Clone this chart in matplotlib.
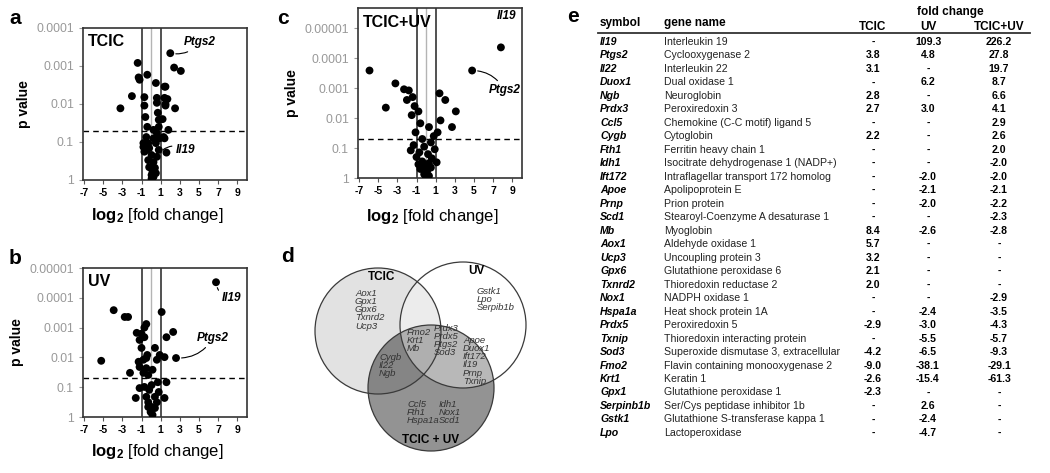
import numpy as np
import matplotlib.pyplot as plt
from matplotlib.patches import Circle
from matplotlib.ticker import NullLocator

plt.rcParams['font.family'] = ['Liberation Sans', 'DejaVu Sans']
plt.rcParams['mathtext.fontset'] = 'custom'
plt.rcParams['mathtext.rm'] = 'Liberation Sans'
plt.rcParams['mathtext.bf'] = 'Liberation Sans:bold'
plt.rcParams['mathtext.it'] = 'Liberation Sans:italic'

# ---- volcano data: log2 fold change and p value ----
tcic_x = [2.0, 2.4, 3.1, 1.5, 1.7, 1.5, 2.5, 1.8, 1.4, 1.6,
          -1.4, -1.3, -1.2, -0.4, 0.5, 1.4, -2.0, -3.2, -0.7, 0.6,
          -0.7, 0.6, 1.5, 0.7, -0.6, 1.2, -0.4, 0.8, 0.6, 1.3,
          -0.5, 0.25, -0.8, 0.5, -0.2, -0.5, 0.8, 0.05, 0.6, -0.3,
          0.25, -0.2, 0.4, 0.15, 0.05, 0.25, 0.05, 0.5, -0.7, -0.8,
          -0.3, 0.9, 0.8, 0.25, 1.4]
tcic_p = [4.6e-4, 1.1e-3, 1.35e-3, 3.5e-3, 7.4e-3, 0.011, 0.013, 0.048, 0.08, 0.19,
          8.3e-4, 2.0e-3, 2.3e-3, 1.7e-3, 2.8e-3, 3.5e-3, 6.2e-3, 0.013, 6.6e-3, 6.9e-3,
          0.011, 9.3e-3, 0.010, 0.017, 0.022, 0.025, 0.040, 0.040, 0.058, 0.074,
          0.074, 0.080, 0.107, 0.107, 0.145, 0.162, 0.162, 0.22, 0.245, 0.30,
          0.34, 0.46, 0.48, 0.62, 0.74, 0.83, 0.93, 0.66, 0.18, 0.135,
          0.107, 0.080, 0.026, 0.048, 6.9e-3]

uv_x = [-3.9, -2.75, -2.4, 1.1, -0.5, -0.7, -1.5, -1.0, -1.2, -0.7,
        2.3, 1.6, 0.4, -1.0, -5.2, 0.9, 1.4, 2.6, -1.3, -0.5,
        0.6, -1.2, -0.5, 0.15, -2.2, -0.8, -0.3, 0.7, 1.6, -1.2,
        -0.2, 0.8, -1.6, 1.4, -0.5, 0.4, -0.3, 0.6, 0.05, -0.3,
        0.4, -0.05, 0.15, -0.7, 0.05, -0.8, -0.4, 6.77]
uv_p = [2.6e-4, 4.4e-4, 4.4e-4, 3.0e-4, 7.6e-4, 1.0e-3, 1.5e-3, 1.6e-3, 2.6e-3, 2.1e-3,
        1.4e-3, 2.1e-3, 4.8e-3, 4.8e-3, 0.013, 8.3e-3, 9.8e-3, 0.0105, 0.014, 0.0105,
        0.012, 0.021, 0.023, 0.026, 0.033, 0.033, 0.039, 0.068, 0.068, 0.107,
        0.123, 0.145, 0.23, 0.23, 0.21, 0.21, 0.32, 0.32, 0.46, 0.46,
        0.50, 0.68, 0.85, 0.098, 0.085, 0.012, 8.3e-3, 3.0e-5]

both_x = [7.8, 4.8, -5.9, -3.2, -2.3, -1.8, -1.4, -2.0, -1.2, -0.8,
          -1.5, -4.2, 1.4, 2.0, 3.1, 1.5, 2.7, 1.2, -0.6, 0.3,
          -1.1, 0.8, -0.4, 0.5, -1.3, -0.2, 0.9, -0.7, 0.2, -1.0,
          0.6, -0.4, 0.3, -0.1, 0.5, -0.6, 0.1, -0.2, 0.3, 0.0,
          -0.8, 1.1, -1.6]
both_p = [4.4e-5, 2.6e-4, 2.6e-4, 7e-4, 1.1e-3, 1.2e-3, 2.0e-3, 2.5e-3, 4e-3, 6e-3,
          8e-3, 4.5e-3, 1.5e-3, 2.5e-3, 6e-3, 0.012, 0.02, 0.03, 0.015, 0.02,
          0.03, 0.04, 0.05, 0.065, 0.08, 0.09, 0.11, 0.14, 0.16, 0.2,
          0.22, 0.28, 0.32, 0.4, 0.45, 0.5, 0.6, 0.75, 0.85, 0.95,
          0.35, 0.3, 0.12]

x_ticks = [-7, -5, -3, -1, 1, 3, 5, 7, 9]

# ---- table data ----
symbols = ['Il19', 'Ptgs2', 'Il22', 'Duox1', 'Ngb', 'Prdx3', 'Ccl5', 'Cygb', 'Fth1', 'Idh1',
           'Ift172', 'Apoe', 'Prnp', 'Scd1', 'Mb', 'Aox1', 'Ucp3', 'Gpx6', 'Txnrd2', 'Nox1',
           'Hspa1a', 'Prdx5', 'Txnip', 'Sod3', 'Fmo2', 'Krt1', 'Gpx1', 'Serpinb1b', 'Gstk1', 'Lpo']
gene_names = ['Interleukin 19', 'Cyclooxygenase 2', 'Interleukin 22', 'Dual oxidase 1',
              'Neuroglobin', 'Peroxiredoxin 3', 'Chemokine (C-C motif) ligand 5', 'Cytoglobin',
              'Ferritin heavy chain 1', 'Isocitrate dehydrogenase 1 (NADP+)',
              'Intraflagellar transport 172 homolog', 'Apolipoprotein E', 'Prion protein',
              'Stearoyl-Coenzyme A desaturase 1', 'Myoglobin', 'Aldehyde oxidase 1',
              'Uncoupling protein 3', 'Glutathione peroxidase 6', 'Thioredoxin reductase 2',
              'NADPH oxidase 1', 'Heat shock protein 1A', 'Peroxiredoxin 5',
              'Thioredoxin interacting protein', 'Superoxide dismutase 3, extracellular',
              'Flavin containing monooxygenase 2', 'Keratin 1', 'Glutathione peroxidase 1',
              'Ser/Cys peptidase inhibitor 1b', 'Glutathione S-transferase kappa 1', 'Lactoperoxidase']
fc_tcic = [None, 3.8, 3.1, None, 2.8, 2.7, None, 2.2, None, None,
           None, None, None, None, 8.4, 5.7, 3.2, 2.1, 2.0, None,
           None, -2.9, None, -4.2, -9.0, -2.6, -2.3, None, None, None]
fc_uv = [109.3, 4.8, None, 6.2, None, 3.0, None, None, None, None,
         -2.0, -2.1, -2.0, None, -2.6, None, None, None, None, None,
         -2.4, -3.0, -5.5, -6.5, -38.1, -15.4, None, 2.6, -2.4, -4.7]
fc_both = [226.2, 27.8, 19.7, 8.7, 6.6, 4.1, 2.9, 2.6, 2.0, -2.0,
           -2.0, -2.1, -2.2, -2.3, -2.8, None, None, None, None, -2.9,
           -3.5, -4.3, -5.7, -9.3, -29.1, -61.3, None, None, None, None]

# ---- venn gene lists ----
venn_tcic = ['Aox1', 'Gpx1', 'Gpx6', 'Txnrd2', 'Ucp3']
venn_uv = ['Gstk1', 'Lpo', 'Serpib1b']
venn_all_a = ['Fmo2', 'Krt1', 'Mb']
venn_all_b = ['Prdx3', 'Prdx5', 'Ptgs2', 'Sod3']
venn_uv_both = ['Apoe', 'Duox1', 'Ift172', 'Il19', 'Prnp', 'Txnip']
venn_tcic_both = ['Cygb', 'Il22', 'Ngb']
venn_both_a = ['Ccl5', 'Fth1', 'Hspa1a']
venn_both_b = ['Idh1', 'Nox1', 'Scd1']

W, H = 1050, 473
fig = plt.figure(figsize=(10.5, 4.73), dpi=100)

ov = fig.add_axes([0, 0, 1, 1])
ov.set_xlim(0, W)
ov.set_ylim(H, 0)
ov.axis('off')


def px_axes(left, top, right, bottom):
    return fig.add_axes([left / W, 1 - bottom / H, (right - left) / W, (bottom - top) / H])


def volcano(ax, x, p, top_exp, ytop, name):
    ax.axvline(0, color='#b4b4b4', lw=1.0, zorder=1)
    ax.axvline(-1, color='#333333', lw=1.2, zorder=1)
    ax.axvline(1, color='#333333', lw=1.2, zorder=1)
    ax.axhline(0.05, color='black', lw=1.0, ls=(0, (4, 3)), zorder=1)
    ax.scatter(x, p, s=32, c='black', edgecolors='none', zorder=3)
    ax.set_yscale('log')
    ax.set_ylim(1, ytop)
    ax.set_xlim(-7.1, 10.0)
    yt = [10.0 ** k for k in range(top_exp, 1)]
    ax.set_yticks(yt)
    ax.set_yticklabels([np.format_float_positional(v, trim='-') for v in yt])
    ax.yaxis.set_minor_locator(NullLocator())
    ax.set_xticks(x_ticks)
    ax.set_xticklabels([str(t) for t in x_ticks], fontweight='bold', fontsize=7.5)
    ax.tick_params(axis='y', colors='#999999', labelsize=8.8, length=3, width=0.8)
    ax.tick_params(axis='x', colors='#555555', labelcolor='black', length=3, width=0.8, pad=3)
    for s in ax.spines.values():
        s.set_color('#333333')
        s.set_linewidth(1.2)
    ax.set_ylabel('p value', fontsize=10, fontweight='bold', labelpad=4)
    ax.set_xlabel(r'$\mathbf{log_2}$ [fold change]', fontsize=12, labelpad=3)
    ax.xaxis.set_label_coords(0.45, -0.17)
    ax.text(0.03, 0.96, name, transform=ax.transAxes, fontsize=11.5, fontweight='bold',
            va='top', ha='left')


def label(ax, txt, xy, xytext, rad):
    ax.annotate(txt, xy=xy, xytext=xytext, fontsize=8.5, fontweight='bold', style='italic',
                va='center', ha='left',
                arrowprops=dict(arrowstyle='-', color='black', lw=0.8, shrinkA=1, shrinkB=4,
                                connectionstyle='arc3,rad=%s' % rad))


ax_a = px_axes(83, 28, 247, 180)
volcano(ax_a, tcic_x, tcic_p, -4, 1e-4, 'TCIC')
label(ax_a, 'Ptgs2', (tcic_x[0], tcic_p[0]), (3.4, 2.4e-4), -0.3)
label(ax_a, 'Il19', (0.8, 0.2), (2.6, 0.16), 0.4)

ax_b = px_axes(83, 268, 247, 417)
volcano(ax_b, uv_x, uv_p, -5, 1e-5, 'UV')
label(ax_b, 'Il19', (uv_x[-1], uv_p[-1]), (7.4, 1.0e-4), -0.4)
label(ax_b, 'Ptgs2', (uv_x[17], uv_p[17]), (4.8, 2.2e-3), -0.3)

ax_c = px_axes(358, 8, 522, 178)
volcano(ax_c, both_x, both_p, -5, 10 ** -5.67, 'TCIC+UV')
ax_c.annotate('Il19', xy=(both_x[0], both_p[0]), xytext=(7.4, 10 ** -5.4), fontsize=8.5,
              fontweight='bold', style='italic', va='center', ha='left')
label(ax_c, 'Ptgs2', (both_x[1], both_p[1]), (6.5, 1.2e-3), 0.3)

# ---- panel letters ----
for t, x, y in [('a', 15, 18), ('b', 15, 258), ('c', 283, 18), ('d', 287, 256), ('e', 573, 16)]:
    ov.text(x, y, t, fontsize=15, fontweight='bold', ha='center', va='center')

# ---- venn ----
c_tcic = (378, 331)
c_uv = (463, 325)
c_both = (431, 388)
r = 63
ov.add_patch(Circle(c_tcic, r, fc='#e2e2e2', ec='none', zorder=1))
ov.add_patch(Circle(c_both, r, fc='#3a3a3a', alpha=0.55, ec='none', zorder=2))
ov.add_patch(Circle(c_uv, r, fc='white', alpha=0.35, ec='none', zorder=3))
for c in (c_tcic, c_uv, c_both):
    ov.add_patch(Circle(c, r, fc='none', ec='#3a3a3a', lw=0.9, zorder=4))

ov.text(382, 277, 'TCIC', fontsize=8.5, fontweight='bold', ha='center', va='center', zorder=5)
ov.text(476, 271, 'UV', fontsize=8.5, fontweight='bold', ha='center', va='center', zorder=5)
ov.text(431, 440, 'TCIC + UV', fontsize=8.5, fontweight='bold', ha='center', va='center', zorder=5)


def gene_block(names, x, y0, step=8.3):
    for i, n in enumerate(names):
        ov.text(x, y0 + i * step, n, fontsize=6.8, style='italic', color='#333333',
                ha='left', va='center', zorder=5)


gene_block(venn_tcic, 355, 293)
gene_block(venn_uv, 477, 291)
gene_block(venn_all_a, 407, 332)
gene_block(venn_all_b, 434, 328)
gene_block(venn_uv_both, 463, 340)
gene_block(venn_tcic_both, 379, 357)
gene_block(venn_both_a, 407, 404)
gene_block(venn_both_b, 439, 404)

# ---- table ----
x_sym, x_name, x_t, x_u, x_b = 600, 664, 873, 928, 999
ov.text(950, 12, 'fold change', fontsize=8.5, fontweight='bold', ha='center', va='center')
ov.text(x_sym, 23, 'symbol', fontsize=8.5, fontweight='bold', ha='left', va='center')
ov.text(x_name, 23, 'gene name', fontsize=8.5, fontweight='bold', ha='left', va='center')
for t, x in [('TCIC', x_t), ('UV', x_u), ('TCIC+UV', x_b)]:
    ov.text(x, 27, t, fontsize=8.5, fontweight='bold', ha='center', va='center')
ov.plot([598, 1030], [33.5, 33.5], color='#333333', lw=1.3)


def fmt(v):
    return '-' if v is None else '%.1f' % v


for i in range(len(symbols)):
    y = 42 + i * 13.48
    ov.text(x_sym, y, symbols[i], fontsize=7.6, fontweight='bold', style='italic',
            ha='left', va='center')
    ov.text(x_name, y, gene_names[i], fontsize=7.6, ha='left', va='center', color='#222222')
    for v, x in [(fc_tcic[i], x_t), (fc_uv[i], x_u), (fc_both[i], x_b)]:
        ov.text(x, y, fmt(v), fontsize=7.6, fontweight='bold', ha='center', va='center')

fig.savefig('out.png', dpi=100)
